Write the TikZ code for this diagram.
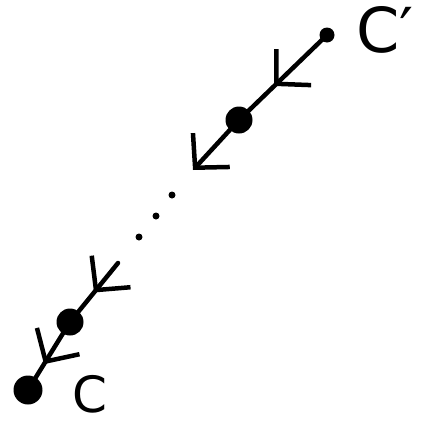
\documentclass[tikz,border=0pt]{standalone}
\usepackage{fontspec}
\setmainfont{DejaVu Sans}
\usetikzlibrary{arrows.meta,decorations.markings}
\tikzset{
  ln/.style={line width=4.5pt, line cap=round},
  barb/.style={-{Straight Barb[length=24pt,width=50pt,line width=4.5pt]}},
  midbarb/.style={postaction={decorate},decoration={markings,
     mark=at position #1 with {\arrow{Straight Barb[length=24pt,width=50pt,line width=4.5pt]}}}},
  dot/.style={circle, fill=black, inner sep=0pt, minimum size=#1},
  lbl/.style={inner sep=0pt, font=\fontsize{62}{64}\selectfont},
  lbls/.style={inner sep=0pt, font=\fontsize{50}{52}\selectfont}
}
\begin{document}
\begin{tikzpicture}[x=1pt,y=-1pt]
\useasboundingbox (0,0) rectangle (437,426);
\node[dot=15pt] (cp) at (327,35) {};
\node[dot=27pt] (d1) at (239,120) {};
\coordinate (e1) at (193,170);
\node[dot=7pt] (p1) at (172,195) {};
\node[dot=7pt] (p2) at (156,216) {};
\node[dot=7pt] (p3) at (139,237) {};
\coordinate (s2) at (118,263);
\node[dot=27pt] (d2) at (70,322) {};
\node[dot=29pt] (c) at (28,390) {};
\draw[ln, midbarb=0.6] (cp.center) -- (d1.center);
\draw[ln, barb] (d1.center) -- (e1);
\draw[ln, midbarb=0.5] (s2) -- (d2.center);
\draw[ln, midbarb=0.62] (d2.center) -- (c.center);
\node[lbl, anchor=west] (lc1) at (356,30) {C′};
\node[lbls, anchor=west] (lc2) at (72,394) {C};
\end{tikzpicture}
\end{document}
